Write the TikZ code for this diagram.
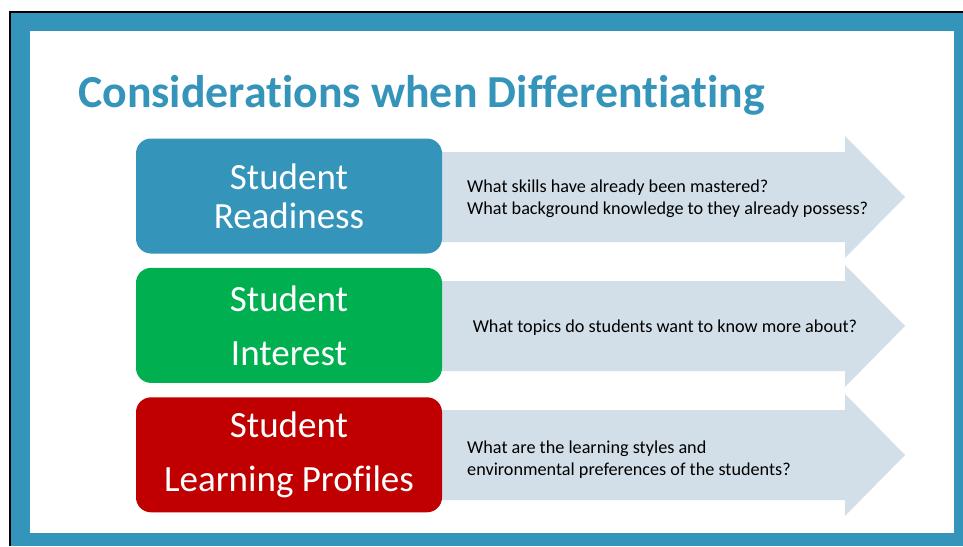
\documentclass[tikz,border=0pt]{standalone}
\usepackage{fontspec}
\setmainfont{Carlito}[Ligatures=NoCommon]
\usetikzlibrary{positioning}

\definecolor{frameblue}{HTML}{3494BA}
\definecolor{readygreen}{HTML}{00B050}
\definecolor{profilered}{HTML}{C00000}
\definecolor{arrowgray}{HTML}{D3DFE8}

\begin{document}
\begin{tikzpicture}[
  x=1pt,
  y=-1pt,
  node distance=14pt,
  topic/.style={
    rounded corners=15pt,
    minimum width=306pt,
    minimum height=115pt,
    inner sep=0pt,
    text=white,
    align=center,
    font=\fontsize{37}{44}\selectfont
  },
  question/.style={
    inner sep=0pt,
    align=left,
    font=\fontsize{18.2}{22}\selectfont
  },
  bigarrow/.style={fill=arrowgray}
]
  \useasboundingbox (0,0) rectangle (963,546);
  % frame
  \fill[black] (9,11) rectangle (963,546);
  \fill[frameblue] (11,13) rectangle (963,546);
  \fill[white] (30,31) rectangle (954,533);

  \node[anchor=base west,inner sep=0pt,text=frameblue,
    font=\fontsize{45.8}{50}\selectfont\bfseries] (title) at (78,107)
    {Considerations when Differentiating};

  % arrows behind the boxes
  \fill[bigarrow] (430,152) -- (845,152) -- (845,136) -- (905,197)
    -- (845,258) -- (845,242) -- (430,242) -- cycle;
  \fill[bigarrow] (430,281) -- (845,281) -- (845,265) -- (905,326)
    -- (845,387) -- (845,371) -- (430,371) -- cycle;
  \fill[bigarrow] (430,410) -- (845,410) -- (845,394) -- (905,455)
    -- (845,516) -- (845,500) -- (430,500) -- cycle;

  \node[topic,fill=frameblue] (readiness) at (289,196)
    {Student\\[-5pt]Readiness};
  \node[topic,fill=readygreen,below=of readiness] (interest)
    {Student\\[10pt]Interest};
  \node[topic,fill=profilered,below=of interest] (profiles)
    {Student\\[10pt]Learning Profiles};

  % base anchor of a two-line node sits on its last line
  \node[question,anchor=base west] (skills) at (467,214)
    {What skills have already been mastered?\\
     What background knowledge to they already possess?};
  \node[question,anchor=base] (topics) at (665,332)
    {What topics do students want to know more about?};
  \node[question,anchor=base west] (styles) at (467,475)
    {What are the learning styles and\\
     environmental preferences of the students?};
\end{tikzpicture}
\end{document}
